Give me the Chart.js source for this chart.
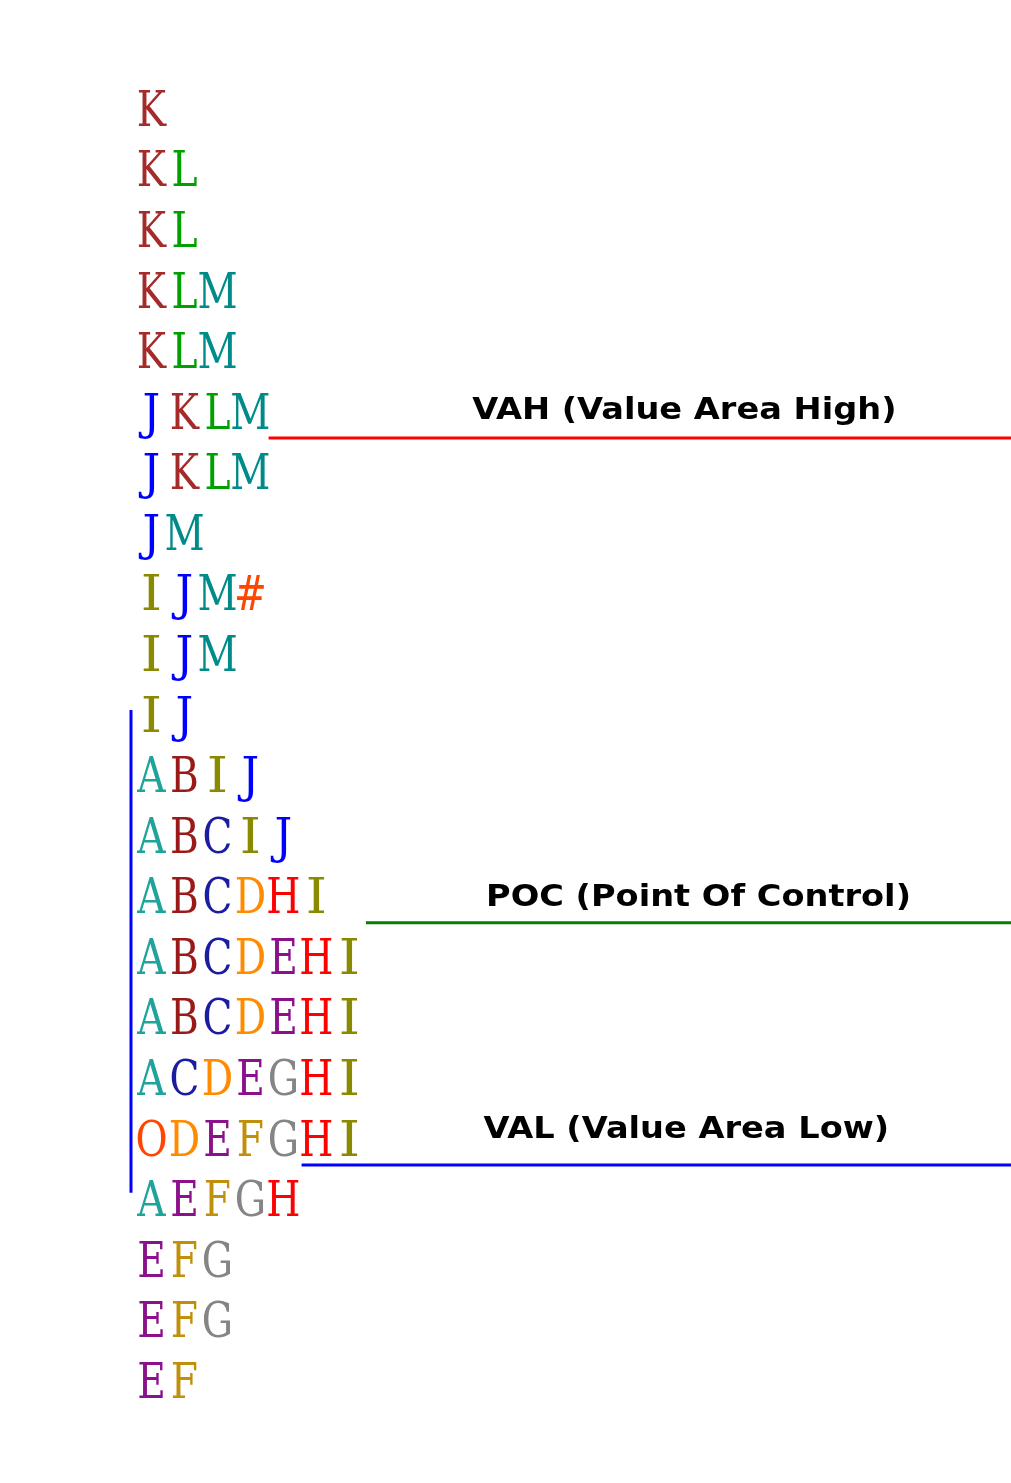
<!DOCTYPE html>
<html>
<head>
<meta charset="utf-8">
<script src="https://cdn.jsdelivr.net/npm/chart.js@4/dist/chart.umd.min.js"></script>
<style>
  html, body { margin: 0; padding: 0; background: #ffffff; }
  #wrap { width: 1011px; height: 1483px; }
</style>
</head>
<body>
<div id="wrap"><canvas id="c" width="1011" height="1483"></canvas></div>
<script>
// TPO profile rows, top (highest price) to bottom
const rows = ["K","KL","KL","KLM","KLM","JKLM","JKLM","JM","IJM#","IJM","IJ","ABIJ","ABCIJ","ABCDHI","ABCDEHI","ABCDEHI","ACDEGHI","ODEFGHI","AEFGH","EFG","EFG","EF"];
// colour of each period letter
const periodLetters = ["A","B","C","D","E","F","G","H","I","J","K","L","M","O","#"];
const periodColors  = ["#1fa39b","#9a1a1a","#1c1ca0","#ff8c00","#8b108b","#c0900a","#858585","#ff0000","#8a8a00","#0000ff","#a52a2a","#00a000","#008b8b","#ff4500","#ff4500"];
// reference levels
const levelNames  = ["VAH (Value Area High)","POC (Point Of Control)","VAL (Value Area Low)"];
const levelRows   = [5.45, 13.45, 17.45];
const levelStart  = [4.05, 7.0, 5.05];
const levelColors = ["#ff0000","#008000","#0000ff"];
const levelLabelRows = [5.0, 13.05, 16.87];
const levelLabelCols = [16.65, 17.08, 16.71];
// initial balance range (rows)
const ibRange = [9.94, 17.91];

const X_MIN = -4.09, X_MAX = 26.55;
const Y_MIN = -1.783, Y_MAX = 22.70;

const colorOf = {};
periodLetters.forEach((l, i) => colorOf[l] = periodColors[i]);

const letterPts = [];
rows.forEach((s, r) => {
  [...s].forEach((ch, i) => letterPts.push({ x: i + 0.5, y: r, ch: ch }));
});

const datasets = [{
  type: 'scatter', label: 'TPO', data: letterPts, pointRadius: 0, pointHoverRadius: 0
}];
levelNames.forEach((n, i) => {
  datasets.push({
    type: 'line', label: n,
    data: [{ x: levelStart[i], y: levelRows[i] }, { x: X_MAX, y: levelRows[i] }],
    borderColor: levelColors[i], borderWidth: 3, pointRadius: 0, fill: false
  });
});
datasets.push({
  type: 'line', label: 'IB',
  data: [{ x: -0.12, y: ibRange[0] }, { x: -0.12, y: ibRange[1] }],
  borderColor: '#0000ff', borderWidth: 3, pointRadius: 0, fill: false
});

const textPlugin = {
  id: 'tpoText',
  afterDatasetsDraw(chart) {
    const ctx = chart.ctx;
    const meta = chart.getDatasetMeta(0);
    const fs = 49;
    ctx.save();
    ctx.font = fs + 'px "DejaVu Serif"';
    ctx.textAlign = 'center';
    ctx.textBaseline = 'alphabetic';
    meta.data.forEach((el, i) => {
      const p = letterPts[i];
      const sx = p.ch === 'I' ? 1.1 : (p.ch === 'J' ? 0.9 : 0.8);
      ctx.save();
      ctx.translate(el.x, el.y + fs * 0.729 / 2);
      ctx.scale(sx, 1);
      ctx.fillStyle = colorOf[p.ch];
      ctx.fillText(p.ch, 0, 0);
      ctx.restore();
    });
    ctx.restore();
    // level labels
    const xs = chart.scales.x, ys = chart.scales.y;
    ctx.save();
    ctx.font = 'bold 30px "DejaVu Sans"';
    ctx.textAlign = 'center';
    ctx.textBaseline = 'middle';
    ctx.fillStyle = '#000000';
    levelNames.forEach((n, i) => {
      ctx.save();
      ctx.translate(xs.getPixelForValue(levelLabelCols[i]), ys.getPixelForValue(levelLabelRows[i]));
      ctx.scale(1.12, 1);
      ctx.fillText(n, 0, 0);
      ctx.restore();
    });
    ctx.restore();
  }
};

new Chart(document.getElementById('c'), {
  type: 'scatter',
  data: { datasets },
  options: {
    responsive: false, animation: false,
    layout: { padding: 0 },
    plugins: { legend: { display: false }, tooltip: { enabled: false } },
    scales: {
      x: { type: 'linear', min: X_MIN, max: X_MAX, display: false },
      y: { type: 'linear', min: Y_MIN, max: Y_MAX, reverse: true, display: false }
    }
  },
  plugins: [textPlugin]
});
</script>
</body>
</html>
